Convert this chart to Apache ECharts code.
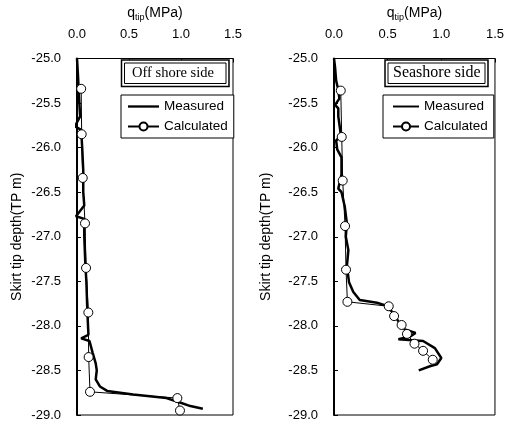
<!DOCTYPE html>
<html>
<head>
<meta charset="utf-8">
<script src="https://cdn.jsdelivr.net/npm/echarts@6/dist/echarts.min.js"></script>
<style>html,body{margin:0;padding:0;background:#fff}#c{width:507px;height:423px}</style>
</head>
<body>
<div id="c"></div>
<script>
// ---- Data ----
const xTicks = [0.0, 0.5, 1.0, 1.5];
const yTicks = [-25.0, -25.5, -26.0, -26.5, -27.0, -27.5, -28.0, -28.5, -29.0];

// Off shore side - measured
const offMeasQ = [0.00, 0.01, 0.02, 0.03, -0.02, 0.04, 0.05, 0.06, 0.06, 0.07, -0.01, 0.07, 0.07, 0.08, 0.09, 0.10, 0.11, 0.04, 0.12, 0.15, 0.18, 0.19, 0.18, 0.22, 0.29, 0.54, 0.86, 0.99, 1.09, 1.21];
const offMeasD = [-25.00, -25.20, -25.45, -25.65, -25.76, -25.80, -26.00, -26.25, -26.50, -26.65, -26.77, -26.80, -27.00, -27.30, -27.50, -27.85, -28.10, -28.14, -28.17, -28.30, -28.42, -28.50, -28.60, -28.68, -28.73, -28.77, -28.81, -28.86, -28.90, -28.93];
// Off shore side - calculated
const offCalcQ = [0.040, 0.045, 0.055, 0.077, 0.087, 0.109, 0.112, 0.125, 0.965, 0.990];
const offCalcD = [-25.34, -25.85, -26.34, -26.85, -27.35, -27.85, -28.35, -28.74, -28.81, -28.95];

// Seashore side - measured
const seaMeasQ = [0.00, 0.01, 0.02, 0.04, 0.05, 0.01, 0.04, 0.04, 0.055, 0.065, 0.02, 0.03, 0.07, 0.07, 0.04, 0.07, 0.10, 0.12, 0.11, 0.134, 0.12, 0.14, 0.18, 0.24, 0.40, 0.48, 0.54, 0.60, 0.66, 0.76, 0.71, 0.60, 0.83, 0.94, 1.00, 0.96, 0.90, 0.79];
const seaMeasD = [-25.00, -25.10, -25.25, -25.35, -25.45, -25.52, -25.56, -25.65, -25.78, -25.87, -25.92, -26.02, -26.11, -26.30, -26.46, -26.50, -26.66, -26.85, -27.00, -27.15, -27.33, -27.51, -27.62, -27.71, -27.74, -27.77, -27.84, -27.95, -28.04, -28.08, -28.12, -28.15, -28.17, -28.25, -28.36, -28.43, -28.45, -28.50];
// Seashore side - calculated
const seaCalcQ = [0.063, 0.072, 0.081, 0.103, 0.112, 0.125, 0.51, 0.56, 0.63, 0.68, 0.75, 0.83, 0.92];
const seaCalcD = [-25.36, -25.88, -26.37, -26.88, -27.37, -27.73, -27.78, -27.89, -27.99, -28.09, -28.20, -28.28, -28.38];

const panelTitles = ['Off shore side', 'Seashore side'];
const seriesNames = ['Measured', 'Calculated'];
const xName = '{q|q}{sub|tip}{q|(MPa)}';
const yName = 'Skirt tip depth(TP m)';

// ---- Build ----
const zip = (a, b) => a.map((v, i) => [v, b[i]]);
const FONT = 'Liberation Sans, Arial, sans-serif';
const SERIF = 'Liberation Serif, Times New Roman, serif';
const grids = [
  {left: 77, top: 52, width: 156, height: 363},
  {left: 334, top: 52, width: 161, height: 363}
];
function xAxis(i) {
  return {
    type: 'value', gridIndex: i, position: 'top',
    min: xTicks[0], max: xTicks[xTicks.length - 1], interval: 0.5,
    name: xName, nameLocation: 'middle', nameGap: 36,
    nameTextStyle: {color: '#000', rich: {
      q: {fontSize: 14, fontFamily: FONT, color: '#000', lineHeight: 18},
      sub: {fontSize: 9, fontFamily: FONT, color: '#000', lineHeight: 18, padding: [8, 0, 0, 0]}
    }},
    axisLine: {show: true, lineStyle: {color: '#000', width: 1}},
    axisTick: {show: true, inside: true, length: 4, lineStyle: {color: '#000'}},
    axisLabel: {color: '#000', fontSize: 13, fontFamily: FONT, margin: 18, formatter: v => v.toFixed(1)},
    splitLine: {show: false}
  };
}
function yAxis(i, gap) {
  return {
    type: 'value', gridIndex: i,
    min: yTicks[yTicks.length - 1], max: yTicks[0], interval: 0.5,
    name: yName, nameLocation: 'middle', nameGap: gap, nameRotate: 90,
    nameTextStyle: {color: '#000', fontSize: 14, fontFamily: FONT},
    axisLine: {show: true, onZero: false, lineStyle: {color: '#000', width: 2}},
    axisTick: {show: true, inside: true, length: 4, lineStyle: {color: '#000'}},
    axisLabel: {color: '#000', fontSize: 13, fontFamily: FONT, margin: 16, formatter: v => v.toFixed(1)},
    splitLine: {show: false}
  };
}
function measured(i, q, d) {
  return {
    name: seriesNames[0], type: 'line', xAxisIndex: i, yAxisIndex: i,
    data: zip(q, d), showSymbol: false, symbol: 'none', clip: false,
    lineStyle: {color: '#000', width: 2.5}, itemStyle: {color: '#000'}, z: 3
  };
}
function calculated(i, q, d) {
  return {
    name: seriesNames[1], type: 'line', xAxisIndex: i, yAxisIndex: i,
    data: zip(q, d), symbol: 'circle', symbolSize: 9, clip: false,
    lineStyle: {color: '#000', width: 1},
    itemStyle: {color: '#fff', borderColor: '#000', borderWidth: 1}, z: 4
  };
}
function legend(i, left, iw) {
  return {
    data: [
      {name: seriesNames[0], icon: 'path://M0,0H40V3H0Z'},
      {name: seriesNames[1]}
    ],
    orient: 'vertical', symbolKeepAspect: true,
    left: left, top: 95, padding: [4, 6, 4, i === 0 ? 6 : 9],
    itemWidth: iw, itemHeight: 10, itemGap: 5, itemTextGap: 3,
    backgroundColor: '#fff', borderColor: '#000', borderWidth: 1,
    textStyle: {color: '#000', fontSize: 13.5, fontFamily: FONT, lineHeight: 15},
    selectedMode: false
  };
}
function titleText(i, left, top, fs) {
  return {
    text: panelTitles[i], left: left, top: top, padding: 0,
    textStyle: {color: '#000', fontSize: fs, fontWeight: 'normal', fontFamily: SERIF}
  };
}
function boxRects(x0, y0, x1, y1) {
  return [
    {type: 'rect', shape: {x: x0, y: y0, width: x1 - x0, height: y1 - y0}, style: {fill: '#fff', stroke: '#000', lineWidth: 1.5}, z: 1},
    {type: 'rect', shape: {x: x0 + 3, y: y0 + 3, width: x1 - x0 - 6, height: y1 - y0 - 6}, style: {fill: 'none', stroke: '#000', lineWidth: 1}, z: 2}
  ];
}

const chart = echarts.init(document.getElementById('c'), null, {renderer: 'canvas'});
chart.setOption({
  animation: false,
  backgroundColor: '#fff',
  grid: grids.map(g => Object.assign({show: true, borderColor: '#000', borderWidth: 1, backgroundColor: 'transparent'}, g)),
  xAxis: [xAxis(0), xAxis(1)],
  yAxis: [yAxis(0, 53), yAxis(1, 61)],
  series: [
    measured(0, offMeasQ, offMeasD), calculated(0, offCalcQ, offCalcD),
    measured(1, seaMeasQ, seaMeasD), calculated(1, seaCalcQ, seaCalcD)
  ],
  legend: [legend(0, 121, 31), legend(1, 383, 26)],
  title: [titleText(0, 132, 66, 14.5), titleText(1, 393, 65, 16)],
  graphic: [
    ...boxRects(121.5, 60, 229, 86.5),
    ...boxRects(385, 60, 488, 86.5)
  ]
});
</script>
</body>
</html>
